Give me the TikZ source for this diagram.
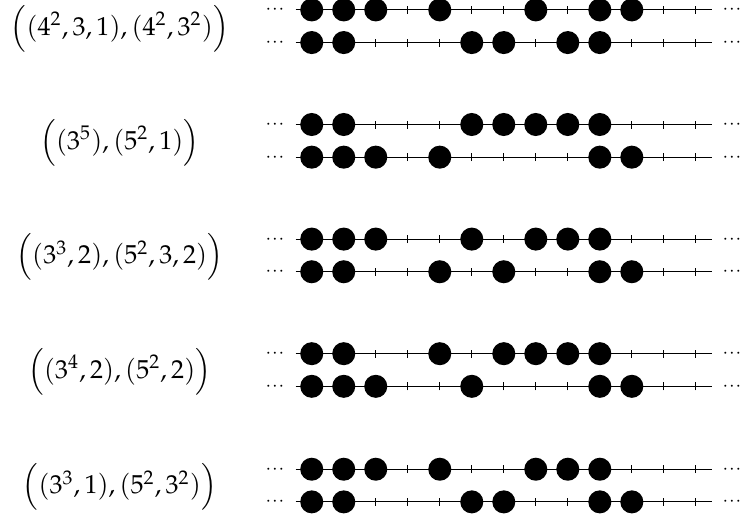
\documentclass[tikz,border=0pt]{standalone}
\usepackage{mathpazo}
\usepackage{tikz}
\usetikzlibrary{positioning}

\begin{document}
\begin{tikzpicture}[x=0.45cm, y=0.45cm, every node/.style={font=\fontsize{10.4}{12.5}\selectfont, align=center, inner sep=0pt},
    bead/.style={fill=black}, trail/.style={font=\tiny\boldmath, inner sep=0pt}]
  \useasboundingbox (-9.74,0) rectangle (13.38,-16.156);
  \node (lab1) at (-6,-0.90) {$\Bigl((4^2,3,1),(4^2,3^2)\Bigr)$};
  \node (lab2) at (-6,-4.46) {$\Bigl((3^5),(5^2,1)\Bigr)$};
  \node (lab3) at (-6,-8.04) {$\Bigl((3^3,2),(5^2,3,2)\Bigr)$};
  \node (lab4) at (-6,-11.62) {$\Bigl((3^4,2),(5^2,2)\Bigr)$};
  \node (lab5) at (-6,-15.22) {$\Bigl((3^3,1),(5^2,3^2)\Bigr)$};
  \foreach \yy/\pat [count=\n] in {
      -0.31/{1,1,1,0,1,0,0,1,0,1,1,0,0}, -1.33/{1,1,0,0,0,1,1,0,1,1,0,0,0},
      -3.89/{1,1,0,0,0,1,1,1,1,1,0,0,0}, -4.91/{1,1,1,0,1,0,0,0,0,1,1,0,0},
      -7.47/{1,1,1,0,0,1,0,1,1,1,0,0,0}, -8.49/{1,1,0,0,1,0,1,0,0,1,1,0,0},
      -11.05/{1,1,0,0,1,0,1,1,1,1,0,0,0}, -12.07/{1,1,1,0,0,1,0,0,0,1,1,0,0},
      -14.66/{1,1,1,0,1,0,0,1,1,1,0,0,0}, -15.68/{1,1,0,0,0,1,1,0,0,1,1,0,0}} {
    \node[trail] (left\n) at (-1.15,\yy) {$\cdots$};
    \node[trail] (right\n) at (13.13,\yy) {$\cdots$};
    \draw (-0.5,\yy) -- (12.5,\yy);
    \foreach \b [count=\k from 0] in \pat {
      \ifnum\b=1 \fill[bead] (\k,\yy) circle (0.36);
      \else \draw (\k,\yy-0.125) -- (\k,\yy+0.125); \fi
    }
  }
\end{tikzpicture}
\end{document}
